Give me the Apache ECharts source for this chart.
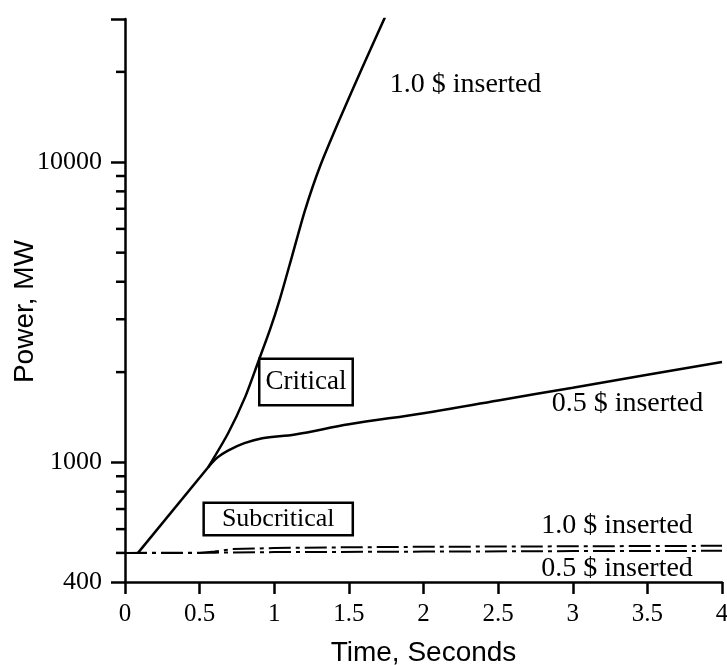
<!DOCTYPE html>
<html>
<head>
<meta charset="utf-8">
<script src="https://cdn.jsdelivr.net/npm/echarts@6/dist/echarts.min.js"></script>
<style>
html,body{margin:0;padding:0;background:#fff;}
#chart{width:727px;height:665px;}
</style>
</head>
<body>
<div id="chart"></div>
<script>
// ---- data (time in seconds, power in MW) ----
var riseT = [0.087, 0.556];
var riseP = [500, 962];

var crit10T = [0.556, 0.69, 0.804, 0.891, 0.972, 1.039, 1.119, 1.206, 1.307, 1.441, 1.588, 1.742];
var crit10P = [962, 1249, 1648, 2154, 2775, 3522, 4861, 6918, 9698, 14020, 20580, 30430];

var crit05T = [0.556, 0.62, 0.69, 0.8, 0.92, 1.14, 1.5, 2.0, 2.5, 3.0, 3.5, 4.0];
var crit05P = [962, 1040, 1096, 1160, 1205, 1240, 1340, 1460, 1610, 1775, 1960, 2160];

var sub10T = [0, 0.5, 0.6, 0.72, 1.0, 1.5, 2.0, 3.0, 4.0];
var sub10P = [500, 500, 505, 515, 519, 522, 524, 526, 528];

var sub05T = [0, 0.6, 1.0, 2.0, 3.0, 4.0];
var sub05P = [500, 501, 503, 505, 507, 508];

var yLabelValues = [400, 1000, 10000];
var minorTickValues = [500, 600, 700, 800, 900, 2000, 3000, 4000, 5000, 6000, 7000, 8000, 9000, 20000];

var annoText = ['1.0 $ inserted', 'Critical', '0.5 $ inserted', 'Subcritical', '1.0 $ inserted', '0.5 $ inserted'];
var annoT = [2.285, 1.216, 3.37, 1.03, 3.30, 3.30];
var annoP = [18060, 1848, 1561, 646, 612, 443];
var annoBoxed = [false, true, false, true, false, false];

function zip(a, b) { return a.map(function (v, i) { return [v, b[i]]; }); }

var SERIF = "'Liberation Serif', 'Times New Roman', serif";
var SANS = "'Liberation Sans', Arial, sans-serif";

var chart = echarts.init(document.getElementById('chart'), null, {renderer: 'canvas'});

var solid = {color: '#000', width: 2.5};
var dashDot = {color: '#000', width: 2, type: [22, 5, 4, 5]};

var annoData = annoText.map(function (txt, i) {
  var lbl = {
    show: true,
    position: [0, 0],
    align: 'center',
    verticalAlign: 'middle',
    formatter: txt,
    color: '#000',
    opacity: 1,
    textBorderWidth: 0,
    fontFamily: SERIF,
    fontSize: 28
  };
  if (annoBoxed[i]) {
    lbl.borderColor = '#000';
    lbl.borderWidth = 2.5;
    lbl.backgroundColor = '#fff';
    if (txt === 'Subcritical') {
      lbl.fontSize = 26;
      lbl.lineHeight = 26;
      lbl.padding = [2, 17, 2, 17];
    } else {
      lbl.fontSize = 27;
      lbl.lineHeight = 28;
      lbl.padding = [8, 5, 8, 5];
    }
  }
  return {value: [annoT[i], annoP[i]], label: lbl};
});

var option = {
  animation: false,
  backgroundColor: '#fff',
  grid: {left: 125, right: 5, top: 19, bottom: 83, containLabel: false, outerBoundsMode: 'none'},
  xAxis: {
    type: 'value',
    min: 0, max: 4, interval: 0.5,
    name: 'Time, Seconds',
    nameLocation: 'middle',
    nameGap: 57,
    nameMoveOverlap: false,
    nameTextStyle: {fontFamily: SANS, fontSize: 28, color: '#000'},
    axisLine: {show: true, lineStyle: {color: '#000', width: 2.5}},
    axisTick: {show: true, inside: false, length: 12, lineStyle: {color: '#000', width: 2.5}},
    axisLabel: {color: '#000', fontFamily: SERIF, fontSize: 25, margin: 20},
    splitLine: {show: false}
  },
  yAxis: {
    type: 'log',
    logBase: 10,
    min: 400, max: 30000,
    name: 'Power, MW',
    nameLocation: 'middle',
    nameGap: 86,
    nameRotate: 90,
    nameMoveOverlap: false,
    nameTextStyle: {fontFamily: SANS, fontSize: 28, color: '#000', padding: [0, 22, 0, 0]},
    axisLine: {show: true, lineStyle: {color: '#000', width: 2.5}},
    axisTick: {show: true, inside: false, length: 14, lineStyle: {color: '#000', width: 2.5}},
    axisLabel: {
      color: '#000', fontFamily: SERIF, fontSize: 26, margin: 23,
      formatter: function (v) {
        var r = Math.round(v);
        return yLabelValues.indexOf(r) >= 0 ? String(r) : '';
      }
    },
    splitLine: {show: false},
    minorTick: {show: false}
  },
  series: [
    {type: 'line', name: 'rise', data: zip(riseT, riseP), showSymbol: false, symbol: 'none', lineStyle: solid, silent: true},
    {type: 'line', name: 'critical 1.0', data: zip(crit10T, crit10P), showSymbol: false, symbol: 'none', smooth: 0.25, lineStyle: solid, silent: true},
    {type: 'line', name: 'critical 0.5', data: zip(crit05T, crit05P), showSymbol: false, symbol: 'none', smooth: 0.35, lineStyle: solid, silent: true},
    {type: 'line', name: 'subcritical 1.0', data: zip(sub10T, sub10P), showSymbol: false, symbol: 'none', lineStyle: dashDot, silent: true},
    {type: 'line', name: 'subcritical 0.5', data: zip(sub05T, sub05P), showSymbol: false, symbol: 'none', lineStyle: dashDot, silent: true},
    {
      type: 'custom', name: 'minor ticks', silent: true, clip: false,
      data: minorTickValues.map(function (v) { return [0, v]; }),
      renderItem: function (params, api) {
        var p = api.coord([0, api.value(1)]);
        return {
          type: 'line',
          shape: {x1: p[0] - 9, y1: p[1], x2: p[0], y2: p[1]},
          style: {stroke: '#000', lineWidth: 2.5}
        };
      }
    },
    {
      type: 'scatter', name: 'annotations', silent: true,
      symbolSize: 1, itemStyle: {color: 'rgba(0,0,0,0)'},
      labelLayout: {hideOverlap: false},
      data: annoData,
      z: 10
    }
  ]
};

chart.setOption(option);
</script>
</body>
</html>
